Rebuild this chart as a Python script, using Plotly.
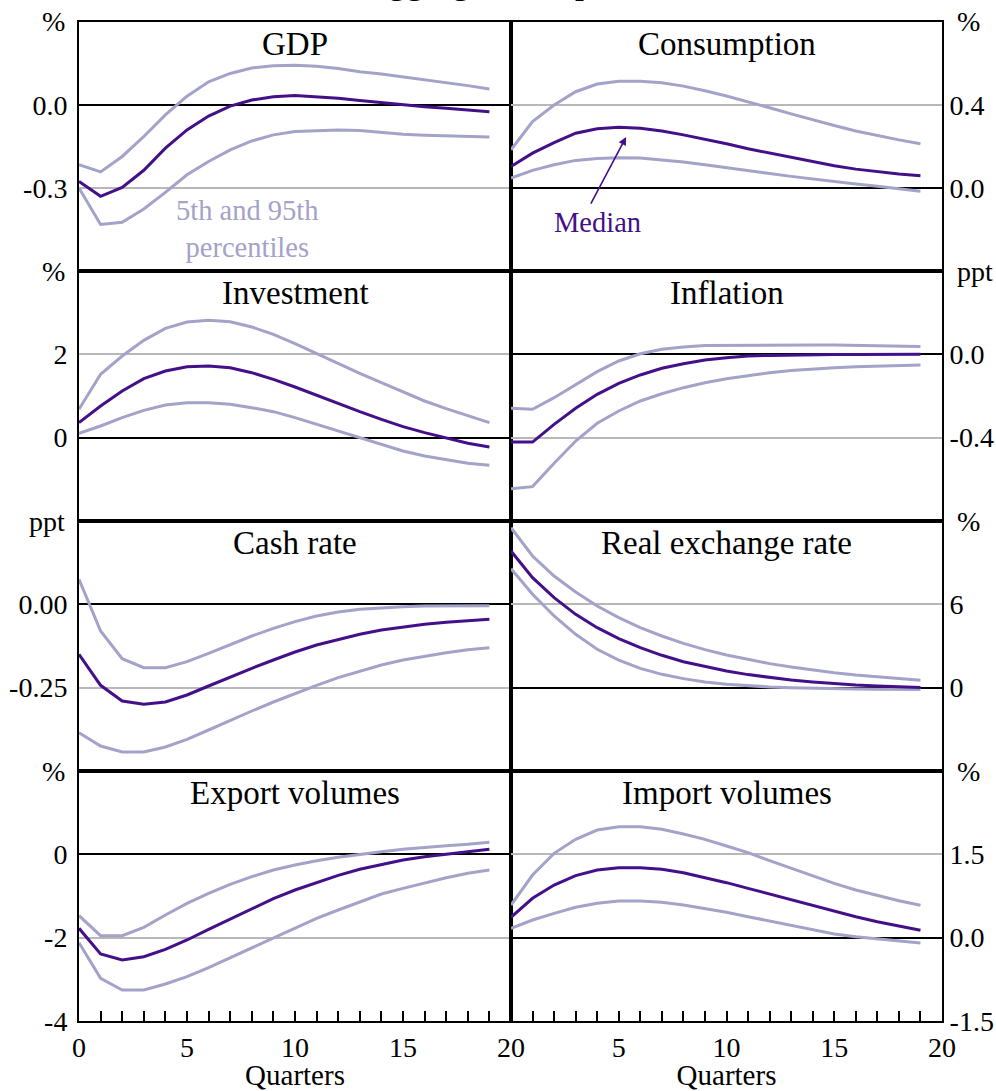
import plotly.graph_objects as go

# Quarters after the shock
quarters = list(range(20))

# GDP (%)
gdp_med = [-0.276, -0.33, -0.298, -0.236, -0.156, -0.09, -0.04, -0.004, 0.018, 0.03,
           0.034, 0.03, 0.024, 0.016, 0.008, 0.0, -0.006, -0.012, -0.018, -0.024]
gdp_hi = [-0.216, -0.242, -0.186, -0.114, -0.036, 0.032, 0.084, 0.114, 0.134, 0.142,
          0.144, 0.14, 0.132, 0.12, 0.112, 0.102, 0.09, 0.08, 0.07, 0.058]
gdp_lo = [-0.30, -0.432, -0.424, -0.376, -0.316, -0.252, -0.204, -0.162, -0.13, -0.108,
          -0.096, -0.092, -0.09, -0.092, -0.1, -0.106, -0.109, -0.112, -0.114, -0.116]

# Consumption (%)
cons_med = [0.104, 0.168, 0.219, 0.264, 0.285, 0.293, 0.288, 0.275, 0.256, 0.235,
            0.213, 0.189, 0.168, 0.147, 0.126, 0.107, 0.091, 0.078, 0.067, 0.059]
cons_hi = [0.184, 0.32, 0.40, 0.464, 0.501, 0.515, 0.515, 0.507, 0.491, 0.469,
           0.443, 0.416, 0.387, 0.357, 0.328, 0.301, 0.275, 0.253, 0.232, 0.213]
cons_lo = [0.048, 0.085, 0.112, 0.133, 0.142, 0.146, 0.144, 0.136, 0.125, 0.112,
           0.099, 0.085, 0.07, 0.056, 0.043, 0.032, 0.019, 0.008, -0.003, -0.016]

# Investment (%)
inv_med = [0.36, 0.76, 1.12, 1.416, 1.6, 1.704, 1.72, 1.68, 1.56, 1.4,
           1.216, 1.016, 0.824, 0.624, 0.44, 0.264, 0.12, -0.016, -0.136, -0.224]
inv_hi = [0.68, 1.52, 1.96, 2.336, 2.624, 2.776, 2.816, 2.784, 2.656, 2.48,
          2.256, 2.016, 1.776, 1.544, 1.32, 1.096, 0.88, 0.696, 0.52, 0.36]
inv_lo = [0.104, 0.28, 0.48, 0.656, 0.784, 0.84, 0.84, 0.8, 0.72, 0.624,
          0.48, 0.32, 0.16, -0.016, -0.176, -0.32, -0.44, -0.536, -0.616, -0.664]

# Inflation (ppt)
infl_med = [-0.421, -0.421, -0.336, -0.259, -0.192, -0.139, -0.099, -0.067, -0.045, -0.027,
            -0.016, -0.008, -0.005, -0.003, -0.002, -0.001, -0.001, 0.0, 0.0, 0.0]
infl_hi = [-0.259, -0.264, -0.208, -0.147, -0.083, -0.032, 0.003, 0.024, 0.035, 0.042,
           0.043, 0.045, 0.045, 0.045, 0.045, 0.045, 0.043, 0.043, 0.042, 0.038]
infl_lo = [-0.645, -0.635, -0.523, -0.416, -0.331, -0.272, -0.224, -0.189, -0.16, -0.136,
           -0.117, -0.101, -0.088, -0.078, -0.07, -0.064, -0.059, -0.056, -0.053, -0.051]

# Cash rate (ppt)
cash_med = [-0.15, -0.243, -0.29, -0.30, -0.293, -0.272, -0.245, -0.218, -0.192, -0.167,
            -0.143, -0.122, -0.105, -0.09, -0.077, -0.068, -0.06, -0.054, -0.049, -0.045]
cash_hi = [0.075, -0.08, -0.163, -0.19, -0.19, -0.172, -0.147, -0.12, -0.095, -0.072,
           -0.052, -0.035, -0.023, -0.015, -0.01, -0.007, -0.005, -0.004, -0.004, -0.004]
cash_lo = [-0.385, -0.425, -0.443, -0.443, -0.428, -0.405, -0.377, -0.348, -0.32, -0.293,
           -0.267, -0.243, -0.22, -0.2, -0.182, -0.167, -0.155, -0.145, -0.136, -0.13]

# Real exchange rate (%)
rer_med = [9.84, 7.92, 6.48, 5.28, 4.32, 3.53, 2.88, 2.33, 1.87, 1.51,
           1.2, 0.94, 0.72, 0.55, 0.41, 0.29, 0.19, 0.12, 0.07, 0.02]
rer_hi = [11.52, 9.48, 8.04, 6.89, 5.88, 5.04, 4.32, 3.72, 3.19, 2.74,
          2.35, 2.02, 1.73, 1.49, 1.27, 1.08, 0.91, 0.77, 0.65, 0.53]
rer_lo = [8.57, 6.72, 5.16, 3.84, 2.76, 1.99, 1.39, 0.96, 0.65, 0.41,
          0.24, 0.12, 0.05, 0.0, -0.05, -0.07, -0.1, -0.12, -0.12, -0.14]

# Export volumes (%)
exp_med = [-1.776, -2.392, -2.536, -2.456, -2.28, -2.056, -1.8, -1.552, -1.296, -1.064,
           -0.856, -0.672, -0.504, -0.36, -0.24, -0.136, -0.056, 0.008, 0.064, 0.12]
exp_hi = [-1.472, -1.952, -1.952, -1.752, -1.456, -1.176, -0.936, -0.72, -0.536, -0.376,
          -0.256, -0.152, -0.072, 0.0, 0.064, 0.12, 0.168, 0.208, 0.24, 0.288]
exp_lo = [-2.12, -2.976, -3.256, -3.256, -3.112, -2.936, -2.72, -2.48, -2.24, -2.0,
          -1.76, -1.536, -1.336, -1.136, -0.952, -0.816, -0.68, -0.56, -0.456, -0.376]

# Import volumes (%)
imp_med = [0.366, 0.708, 0.948, 1.116, 1.218, 1.26, 1.26, 1.23, 1.17, 1.086,
           0.99, 0.888, 0.786, 0.678, 0.576, 0.468, 0.378, 0.288, 0.21, 0.132]
imp_hi = [0.588, 1.128, 1.518, 1.77, 1.938, 1.998, 1.998, 1.95, 1.866, 1.77,
          1.65, 1.53, 1.386, 1.248, 1.11, 0.978, 0.858, 0.756, 0.666, 0.582]
imp_lo = [0.168, 0.318, 0.438, 0.546, 0.618, 0.66, 0.66, 0.636, 0.588, 0.528,
          0.456, 0.378, 0.30, 0.216, 0.138, 0.066, 0.018, -0.024, -0.06, -0.096]

titles = ["GDP", "Consumption", "Investment", "Inflation",
          "Cash rate", "Real exchange rate", "Export volumes", "Import volumes"]
units = ["%", "%", "%", "ppt", "ppt", "%", "%", "%"]
series = [(gdp_lo, gdp_hi, gdp_med), (cons_lo, cons_hi, cons_med),
          (inv_lo, inv_hi, inv_med), (infl_lo, infl_hi, infl_med),
          (cash_lo, cash_hi, cash_med), (rer_lo, rer_hi, rer_med),
          (exp_lo, exp_hi, exp_med), (imp_lo, imp_hi, imp_med)]
y_ranges = [[-0.6, 0.3], [-0.4, 0.8], [-2, 4], [-0.8, 0.4],
            [-0.5, 0.25], [-6, 12], [-4, 2], [-1.5, 3]]
y_ticks = [[-0.3, 0.0], [0.0, 0.4], [0, 2], [-0.4, 0.0],
           [-0.25, 0.0], [0, 6], [-4, -2, 0], [-1.5, 0.0, 1.5]]
y_ticktext = [["-0.3", "0.0"], ["0.0", "0.4"], ["0", "2"], ["-0.4", "0.0"],
              ["-0.25", "0.00"], ["0", "6"], ["-4", "-2", "0"], ["-1.5", "0.0", "1.5"]]
x_ticks = list(range(21))
x_text_left = [str(v) if v % 5 == 0 else "" for v in x_ticks]
x_text_right = [str(v) if v % 5 == 0 and v > 0 else "" for v in x_ticks]

W, H = 996, 1091
FONT = "Liberation Serif"
MED = "#44108a"
BAND = "#a3a2c9"
GRID = "#b8b8b8"

col_px = [(79, 511), (511, 942)]
row_px = [(22, 271), (271, 521), (521, 771), (771, 1021)]


def px_x(p):
    return p / W


def px_y(p):
    return (H - p) / H


fig = go.Figure()
annotations = []

for i in range(8):
    r, c = divmod(i, 2)
    n = i + 1
    xa = "x" if n == 1 else f"x{n}"
    ya = "y" if n == 1 else f"y{n}"
    lo, hi, med = series[i]
    for vals, col in ((lo, BAND), (hi, BAND), (med, MED)):
        fig.add_trace(go.Scatter(x=quarters, y=vals, mode="lines", xaxis=xa, yaxis=ya,
                                 line=dict(color=col, width=3), hoverinfo="skip"))

    bottom_row = r == 3
    xkey = "xaxis" if n == 1 else f"xaxis{n}"
    ykey = "yaxis" if n == 1 else f"yaxis{n}"
    x0, x1 = col_px[c]
    y0, y1 = row_px[r]
    xaxis = dict(domain=[px_x(x0), px_x(x1)], range=[0, 20], anchor=ya,
                 showgrid=False, zeroline=False, showline=True, mirror=True,
                 linecolor="black", linewidth=2, fixedrange=True, automargin=False)
    if bottom_row:
        xaxis.update(tickmode="array", tickvals=x_ticks,
                     ticktext=x_text_left if c == 0 else x_text_right,
                     ticks="inside", ticklen=10, tickwidth=1.5, tickcolor="black",
                     ticklabelstandoff=0,
                     tickfont=dict(family=FONT, size=28, color="black"),
                     title=dict(text="Quarters", font=dict(family=FONT, size=29, color="black"),
                                standoff=22))
    else:
        xaxis.update(showticklabels=False, ticks="")
    yaxis = dict(domain=[px_y(y1), px_y(y0)], range=y_ranges[i], anchor=xa,
                 side="left" if c == 0 else "right",
                 tickmode="array", tickvals=y_ticks[i], ticktext=y_ticktext[i],
                 tickfont=dict(family=FONT, size=28, color="black"), ticks="",
                 ticklabelstandoff=4 if c == 0 else 0,
                 showgrid=True, gridcolor=GRID, gridwidth=1.5,
                 zeroline=True, zerolinecolor="black", zerolinewidth=1.5,
                 showline=True, mirror=True, linecolor="black", linewidth=2,
                 fixedrange=True, automargin=False)
    fig.layout[xkey] = xaxis
    fig.layout[ykey] = yaxis

    # panel title
    annotations.append(dict(text=titles[i], xref="paper", yref="paper",
                            x=px_x((x0 + x1) / 2), y=px_y(y0 + 22),
                            xanchor="center", yanchor="middle", showarrow=False,
                            font=dict(family=FONT, size=33, color="black")))
    # unit label at the top of each panel
    if c == 0:
        annotations.append(dict(text=units[i], xref="paper", yref="paper",
                                x=px_x(67), y=px_y(y0), xanchor="right", yanchor="middle",
                                showarrow=False, font=dict(family=FONT, size=28, color="black")))
    else:
        annotations.append(dict(text=units[i], xref="paper", yref="paper",
                                x=px_x(955), y=px_y(y0), xanchor="left", yanchor="middle",
                                showarrow=False, font=dict(family=FONT, size=28, color="black")))

# Key labels
annotations.append(dict(text="5th and 95th<br>percentiles", xref="x", yref="y",
                        x=7.8, y=-0.45, xanchor="center", yanchor="middle", showarrow=False,
                        font=dict(family=FONT, size=28.5, color=BAND)))
annotations.append(dict(text="Median", xref="x2", yref="y2", x=4.0, y=-0.165,
                        xanchor="center", yanchor="middle", showarrow=False,
                        font=dict(family=FONT, size=28.5, color=MED)))
annotations.append(dict(text="", xref="x2", yref="y2", x=5.34, y=0.246,
                        axref="x2", ayref="y2", ax=3.67, ay=-0.082,
                        showarrow=True, arrowhead=2, arrowsize=1, arrowwidth=1.6,
                        arrowcolor=MED))
# Figure heading, running off the top edge of the page
annotations.append(dict(text="Aggregate Responses", xref="paper", yref="paper",
                        x=px_x(360), y=1, xanchor="left", yanchor="bottom", yshift=-3,
                        showarrow=False, font=dict(family=FONT, size=36, color="black")))

fig.update_layout(width=W, height=H, margin=dict(l=0, r=0, t=0, b=0, autoexpand=False),
                  paper_bgcolor="white", plot_bgcolor="white", showlegend=False,
                  annotations=annotations)

fig.write_html("out.html", config={"displayModeBar": False})
